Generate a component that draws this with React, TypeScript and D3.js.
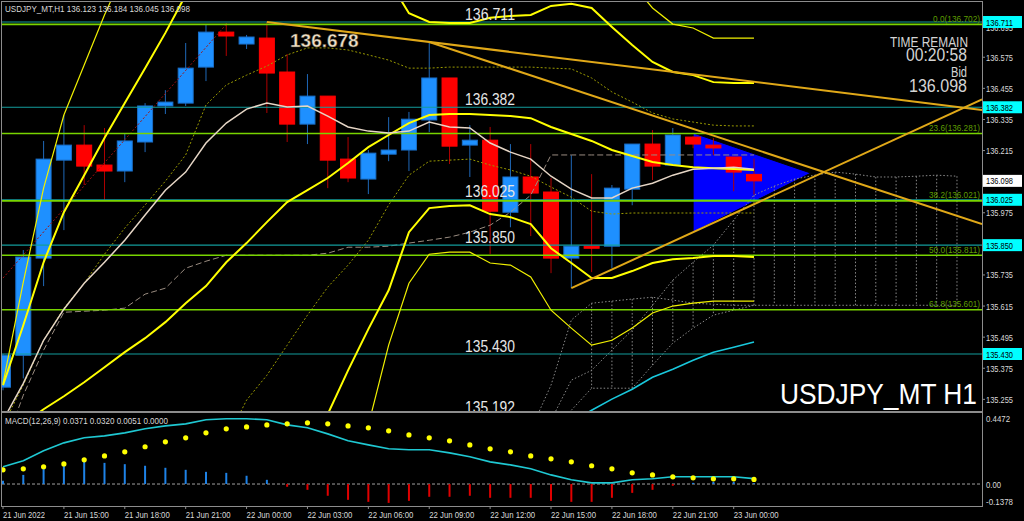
import * as React from 'react';
import * as d3 from 'd3';

const W = 1024;
const H = 521;
const FONT = "'Liberation Sans Narrow', 'Arial Narrow', 'Liberation Sans', sans-serif";

// hourly bars, 21 Jun 12:00 .. 23 Jun 01:00
const opens = [135.302, 135.425, 135.800, 136.178, 136.236, 136.159, 136.136, 136.248, 136.387, 136.398, 136.537, 136.672, 136.626, 136.649, 136.518, 136.317, 136.425, 136.182, 136.105, 136.201, 136.217, 136.333, 136.495, 136.236, 136.255, 135.977, 136.113, 136.055, 135.800, 135.846, 135.846, 136.066, 136.240, 136.159, 136.267, 136.236, 136.190, 136.123];
const highs = [135.430, 135.831, 136.252, 136.352, 136.313, 136.302, 136.282, 136.398, 136.448, 136.630, 136.700, 136.707, 136.661, 136.711, 136.587, 136.510, 136.425, 136.267, 136.217, 136.344, 136.364, 136.634, 136.495, 136.313, 136.306, 136.240, 136.240, 136.109, 136.197, 136.124, 136.082, 136.240, 136.294, 136.302, 136.270, 136.263, 136.190, 136.184];
const lows = [135.290, 135.336, 135.692, 135.908, 136.082, 136.024, 136.093, 136.209, 136.356, 136.387, 136.483, 136.580, 136.607, 136.360, 136.248, 136.240, 136.070, 136.093, 136.047, 136.174, 136.136, 136.286, 136.163, 136.113, 135.815, 135.919, 135.885, 135.742, 135.684, 135.746, 135.761, 136.004, 136.101, 136.159, 136.224, 136.197, 136.058, 136.045];
const closes = [135.425, 135.804, 136.182, 136.236, 136.155, 136.136, 136.252, 136.387, 136.402, 136.533, 136.672, 136.657, 136.653, 136.514, 136.317, 136.425, 136.178, 136.109, 136.205, 136.217, 136.336, 136.495, 136.232, 136.255, 135.981, 136.113, 136.051, 135.800, 135.846, 135.838, 136.070, 136.240, 136.155, 136.275, 136.240, 136.225, 136.132, 136.098];

const timeTickIdx = [0, 3, 6, 9, 12, 15, 18, 21, 24, 27, 30, 33, 36];
const timeLabels = ['21 Jun 2022', '21 Jun 15:00', '21 Jun 18:00', '21 Jun 21:00', '22 Jun 00:00', '22 Jun 03:00', '22 Jun 06:00', '22 Jun 09:00', '22 Jun 12:00', '22 Jun 15:00', '22 Jun 18:00', '22 Jun 21:00', '23 Jun 00:00'];

// visible price scale labels (the rest sit under the level boxes)
const priceTicks = [135.255, 135.375, 135.495, 135.615, 135.735, 135.975, 136.215, 136.335, 136.455, 136.575, 136.695];

// bollinger style bands (null = not drawn)
const bbMid = [135.105, 135.159, 135.217, 135.267, 135.321, 135.379, 135.437, 135.491, 135.553, 135.626, 135.692, 135.784, 135.858, 135.939, 136.016, 136.062, 136.109, 136.167, 136.228, 136.275, 136.321, 136.352, 136.356, 136.356, 136.352, 136.348, 136.340, 136.306, 136.279, 136.252, 136.217, 136.194, 136.171, 136.159, 136.151, 136.147, 136.144, 136.140];
const bbUp2 = [135.310, 135.541, 135.784, 135.977, 136.120, 136.263, 136.398, 136.533, 136.669, 136.815, 136.900, 136.980, 137.040, 137.080, 137.100, 137.086, 137.020, 136.966, 136.931, 136.873, 136.745, 136.711, 136.707, 136.707, 136.727, 136.734, 136.738, 136.773, 136.781, 136.765, 136.692, 136.622, 136.557, 136.518, 136.506, 136.479, 136.476, 136.476];
const bbUp3 = [135.317, 135.707, 136.070, 136.352, 136.545, 136.738, 136.912, 137.050, 137.150, 137.250, 137.300, 137.350, 137.380, 137.400, 137.400, 137.380, 137.330, 137.270, 137.200, 137.086, 136.939, 136.889, 136.889, 136.889, 136.923, 136.923, 136.954, 137.012, 137.028, 137.039, 136.950, 136.858, 136.765, 136.703, 136.688, 136.649, 136.649, 136.649];
const bbLo2 = [null, null, null, null, null, null, null, null, null, null, null, null, null, null, 134.865, 135.039, 135.198, 135.367, 135.526, 135.676, 135.900, 135.993, 136.001, 136.004, 135.970, 135.958, 135.931, 135.838, 135.781, 135.723, 135.723, 135.750, 135.781, 135.796, 135.800, 135.808, 135.808, 135.804];
const bbLo3 = [null, null, null, null, null, null, null, null, null, null, null, null, null, null, null, null, 134.788, 134.943, 135.155, 135.464, 135.703, 135.815, 135.823, 135.823, 135.781, 135.773, 135.727, 135.599, 135.530, 135.464, 135.483, 135.530, 135.588, 135.615, 135.626, 135.634, 135.634, 135.634];

const maFast = [135.174, 135.317, 135.483, 135.603, 135.703, 135.784, 135.869, 135.966, 136.062, 136.132, 136.244, 136.321, 136.375, 136.398, 136.383, 136.387, 136.348, 136.306, 136.290, 136.283, 136.290, 136.325, 136.306, 136.302, 136.244, 136.209, 136.182, 136.116, 136.066, 136.032, 136.032, 136.070, 136.089, 136.120, 136.143, 136.147, 136.151, 136.143];
const envHigh = [135.155, 135.310, 135.483, 135.607, 135.703, 135.815, 135.916, 136.005, 136.097, 136.198, 136.391, 136.468, 136.506, 136.541, 136.584, 136.611, 136.611, 136.603, 136.584, 136.564, 136.533, 136.533, 136.537, 136.537, 136.537, 136.537, 136.537, 136.533, 136.530, 136.495, 136.441, 136.402, 136.360, 136.337, 136.325, 136.313, 136.310, 136.310];
const envLow = [null, null, null, null, null, null, null, null, null, null, null, 135.097, 135.252, 135.348, 135.464, 135.580, 135.688, 135.773, 135.869, 136.005, 136.120, 136.174, 136.178, 136.182, 136.159, 136.140, 136.116, 136.074, 136.035, 135.981, 135.970, 135.974, 135.974, 135.974, 135.974, 135.974, 135.974, 135.974];
const lagLine = [135.059, 135.271, 135.445, 135.591, 135.595, 135.599, 135.607, 135.661, 135.684, 135.761, 135.788, 135.811, 135.811, 135.811, 135.811, 135.811, 135.819, 135.842, 135.842, 135.846, 135.858, 135.869, 135.881, 135.900, 135.927, 135.977, 136.043, 136.198, 136.198, 136.198, 136.198, 136.198, 136.198, 136.198, 136.198, 136.198, 136.198, 136.198];
const cyanLine = [null, null, null, null, null, null, null, null, null, null, null, null, null, null, null, null, null, null, null, null, null, null, null, null, null, null, null, null, 135.167, 135.213, 135.256, 135.294, 135.340, 135.371, 135.406, 135.437, 135.456, 135.476];

// cloud spans, each starting at its own bar index
const spanAStart = 27;
const spanA = [135.174, 135.329, 135.367, 135.445, 135.522, 135.618, 135.715, 135.784, 135.850, 135.947, 136.043, 136.078, 136.105, 136.120, 136.132, 136.124, 136.113, 136.113, 136.116, 136.120, 136.116];
const spanBStart = 26;
const spanB = [135.136, 135.310, 135.561, 135.626, 135.634, 135.642, 135.649, 135.638, 135.626, 135.622, 135.618, 135.618, 135.618, 135.618, 135.618, 135.618, 135.618, 135.618, 135.618, 135.618, 135.618, 135.618];
const spanCStart = 28;
const spanC = [135.213, 135.298, 135.298, 135.298, 135.387, 135.472, 135.530, 135.580, 135.599, 135.618];

// fibo diagonal, trendlines (bar index, price)
const fibDiag = [[0, 135.723], [11, 136.702]];
const trend1 = [[13, 136.711], [37, 136.480]];
const trend2 = [[21, 136.634], [37, 136.221]];
const trend3 = [[28, 135.684], [37, 136.008]];
const triangle = [[34, 136.283], [34, 135.900], [39.8, 136.128]];

const levels = [136.711, 136.382, 136.025, 135.850, 135.430, 135.192];
const fibNames = ['0.0', '23.6', '38.2', '50.0', '61.8'];
const fibPrices = [136.702, 136.281, 136.021, 135.811, 135.601];

const macdMain = [0.119, 0.160, 0.229, 0.284, 0.319, 0.332, 0.353, 0.381, 0.401, 0.415, 0.443, 0.450, 0.450, 0.443, 0.408, 0.388, 0.346, 0.298, 0.270, 0.243, 0.236, 0.236, 0.215, 0.188, 0.153, 0.132, 0.105, 0.063, 0.029, 0.008, 0.008, 0.029, 0.036, 0.050, 0.050, 0.050, 0.050, 0.0371];
const macdSignal = [0.098, 0.105, 0.119, 0.139, 0.167, 0.194, 0.222, 0.257, 0.291, 0.319, 0.353, 0.381, 0.394, 0.408, 0.415, 0.422, 0.415, 0.401, 0.388, 0.367, 0.339, 0.319, 0.298, 0.270, 0.243, 0.222, 0.194, 0.174, 0.153, 0.126, 0.105, 0.077, 0.063, 0.050, 0.043, 0.036, 0.036, 0.0320];
const macdHist = [0.022, 0.063, 0.112, 0.137, 0.153, 0.146, 0.137, 0.126, 0.112, 0.098, 0.084, 0.077, 0.057, 0.029, -0.019, -0.040, -0.081, -0.109, -0.123, -0.130, -0.116, -0.088, -0.088, -0.081, -0.095, -0.095, -0.095, -0.116, -0.123, -0.123, -0.095, -0.061, -0.040, -0.012, 0.008, 0.015, 0.015, 0.0051];

const MAIN = { left: 2, right: 982, top: 2, bottom: 411 };
const SUB = { top: 413, bottom: 506 };

const x = d3.scaleLinear().domain([0, 37]).range([3, 754]);
const y = d3.scaleLinear().domain([136.711, 135.43]).range([22, 354]);
const my = d3.scaleLinear().domain([0.4472, -0.1378]).range([419.2, 504]);

const seriesPath = (vals: (number | null)[], start = 0) =>
  d3.line<number | null>()
    .defined((v) => v != null)
    .x((_, i) => x(i + start))
    .y((v) => y(v as number))(vals) || '';

const pts = (p: number[][]) => d3.line<number[]>().x((d) => x(d[0])).y((d) => y(d[1]))(p) || '';

// extend a two point trendline to the right border
const ray = (p: number[][]) => {
  const [a, b] = p;
  const slope = (b[1] - a[1]) / (b[0] - a[0]);
  const endIdx = x.invert(MAIN.right);
  return pts([a, [endIdx, a[1] + slope * (endIdx - a[0])]]);
};

const App: React.FC = () => {
  const cloudBars = d3.range(29, 48);
  const candleW = 15;
  return (
    <svg width={W} height={H} style={{ position: 'fixed', left: 0, top: 0, background: '#000' }} fontFamily={FONT}>
      <defs>
        <clipPath id="mainClip">
          <rect x={MAIN.left} y={MAIN.top} width={MAIN.right - MAIN.left} height={MAIN.bottom - MAIN.top} />
        </clipPath>
        <clipPath id="subClip">
          <rect x={MAIN.left} y={SUB.top} width={MAIN.right - MAIN.left} height={SUB.bottom - SUB.top} />
        </clipPath>
      </defs>
      <rect x={0} y={0} width={W} height={H} fill="#000" />

      <g clipPath="url(#mainClip)">
        {/* triangle object in background */}
        <path d={pts(triangle) + 'Z'} fill="#0000ff" stroke="#000" strokeWidth={1} />

        {/* candles */}
        {opens.map((o, i) => {
          const c = closes[i];
          const up = c >= o;
          const top = y(Math.max(o, c));
          const bot = y(Math.min(o, c));
          return (
            <g key={i}>
              <line x1={x(i)} x2={x(i)} y1={y(highs[i])} y2={y(lows[i])} stroke={up ? '#1f68b8' : '#b00000'} strokeWidth={1} />
              <rect x={x(i) - candleW / 2} y={top} width={candleW} height={Math.max(bot - top, 1.5)}
                fill={up ? '#1e90ff' : '#ff0000'} stroke={up ? '#1a6fc9' : '#ff0000'} strokeWidth={1} />
            </g>
          );
        })}

        {/* cloud */}
        <g stroke="#8a8a8a" strokeWidth={1} strokeDasharray="1.5,2" fill="none">
          <path d={seriesPath(spanA, spanAStart)} />
          <path d={seriesPath(spanB, spanBStart)} />
          <path d={seriesPath(spanC, spanCStart)} />
          {cloudBars.map((i) => {
            const vals = [spanA[i - spanAStart], spanB[i - spanBStart], spanC[i - spanCStart]].filter((v) => v != null) as number[];
            return <line key={i} x1={x(i)} x2={x(i)} y1={y(d3.max(vals)!)} y2={y(d3.min(vals)!)} />;
          })}
        </g>

        <path d={seriesPath(lagLine)} fill="none" stroke="#9a8c80" strokeWidth={1} strokeDasharray="6,3" />
        <path d={pts(fibDiag)} fill="none" stroke="#a01010" strokeWidth={1} strokeDasharray="2,2" />
        <path d={seriesPath(envHigh)} fill="none" stroke="#9a9a00" strokeWidth={1} strokeDasharray="2,2" />
        <path d={seriesPath(envLow)} fill="none" stroke="#9a9a00" strokeWidth={1} strokeDasharray="2,2" />

        {/* horizontal levels */}
        {levels.map((lv) => (
          <line key={lv} x1={MAIN.left} x2={MAIN.right} y1={y(lv)} y2={y(lv)} stroke="#139c9c" strokeWidth={1.2} />
        ))}
        {fibPrices.map((fp) => (
          <line key={fp} x1={MAIN.left} x2={MAIN.right} y1={y(fp)} y2={y(fp)} stroke="#78d400" strokeWidth={1.6} />
        ))}

        {/* bands and averages */}
        <path d={seriesPath(bbUp3)} fill="none" stroke="#f0f000" strokeWidth={1.2} />
        <path d={seriesPath(bbLo3)} fill="none" stroke="#f0f000" strokeWidth={1.2} />
        <path d={seriesPath(bbUp2)} fill="none" stroke="#ffff00" strokeWidth={2} />
        <path d={seriesPath(bbLo2)} fill="none" stroke="#ffff00" strokeWidth={2} />
        <path d={seriesPath(bbMid)} fill="none" stroke="#ffff00" strokeWidth={2} />
        <path d={seriesPath(maFast)} fill="none" stroke="#e6d6c6" strokeWidth={1.5} />
        <path d={seriesPath(cyanLine)} fill="none" stroke="#19c8dc" strokeWidth={1.6} />

        {/* trendlines */}
        {[trend1, trend2, trend3].map((t, k) => (
          <path key={k} d={ray(t)} fill="none" stroke="#e0a818" strokeWidth={2} />
        ))}

        {/* level texts */}
        {levels.map((lv) => (
          <text key={lv} x={465} y={y(lv) - 2.5} fontSize={16} fill="#e6e6e6" textLength={50} lengthAdjust="spacingAndGlyphs">{lv.toFixed(3)}</text>
        ))}
        {fibPrices.map((fp, k) => (
          <text key={fp} x={980} y={y(fp) - 2.5} fontSize={9.5} fill="#5e9e00" textAnchor="end"
            textLength={k === 0 ? 47 : 51} lengthAdjust="spacingAndGlyphs">{`${fibNames[k]}(${fp.toFixed(3)})`}</text>
        ))}

        <text x={290} y={46.5} fontSize={19} fontWeight="bold" fontFamily="'Liberation Sans', Arial, sans-serif" fill="#efe0c8" stroke="#3a3020" strokeWidth={0.4}>136.678</text>

        <g fill="#d4d4d4">
          <text x={890} y={46.5} fontSize={15} textLength={78} lengthAdjust="spacingAndGlyphs">TIME REMAIN</text>
          <text x={906} y={61} fontSize={17.5} textLength={61} lengthAdjust="spacingAndGlyphs">00:20:58</text>
          <text x={951} y={77} fontSize={14.5} textLength={16} lengthAdjust="spacingAndGlyphs">Bid</text>
          <text x={909} y={92} fontSize={17.5} textLength={58} lengthAdjust="spacingAndGlyphs">136.098</text>
        </g>
      </g>

      {/* panel frames */}
      <rect x={MAIN.left - 0.5} y={MAIN.top - 0.5} width={MAIN.right - MAIN.left + 1} height={MAIN.bottom - MAIN.top + 1} fill="none" stroke="#8c8c8c" />
      <rect x={MAIN.left - 0.5} y={SUB.top - 0.5} width={MAIN.right - MAIN.left + 1} height={SUB.bottom - SUB.top + 1} fill="none" stroke="#8c8c8c" />

      <text x={780} y={404} fontSize={30} fill="#ffffff" textLength={197} lengthAdjust="spacingAndGlyphs">USDJPY_MT H1</text>

      <text x={5} y={12} fontSize={9} fill="#d8d8d8" textLength={185} lengthAdjust="spacingAndGlyphs">USDJPY_MT,H1  136.123 136.184 136.045 136.098</text>

      {/* price axis */}
      <g fontSize={9} fill="#d8d8d8">
        {priceTicks.map((p) => (
          <g key={p}>
            <line x1={MAIN.right} x2={MAIN.right + 3} y1={y(p)} y2={y(p)} stroke="#8c8c8c" />
            <text x={986} y={p === 136.695 ? y(p) + 5 : y(p) + 3.5} textLength={27} lengthAdjust="spacingAndGlyphs">{p.toFixed(3)}</text>
          </g>
        ))}
      </g>
      {[136.711, 136.382, 136.025, 135.850, 135.430, 136.098].map((p) => (
        <g key={p}>
          <rect x={983} y={y(p) - 6} width={39} height={12} fill={p === 136.098 ? '#ffffff' : '#00ffff'} />
          <text x={986} y={y(p) + 3.5} fontSize={9} fill="#000" textLength={27} lengthAdjust="spacingAndGlyphs">{p.toFixed(3)}</text>
        </g>
      ))}

      {/* MACD */}
      <g clipPath="url(#subClip)">
        <line x1={MAIN.left} x2={MAIN.right} y1={my(0)} y2={my(0)} stroke="#a0a0a0" strokeDasharray="3,2" />
        {macdHist.map((v, i) => (
          <line key={i} x1={x(i)} x2={x(i)} y1={my(0)} y2={my(v)} stroke={v >= 0 ? '#1e82e6' : '#e00000'} strokeWidth={2} />
        ))}
        <path d={d3.line<number>().x((_, i) => x(i)).y((v) => my(v))(macdMain) || ''} fill="none" stroke="#1fc8d2" strokeWidth={1.6} />
        {macdSignal.map((v, i) => (
          <circle key={i} cx={x(i)} cy={my(v)} r={2.6} fill="#ffff00" />
        ))}
      </g>
      <text x={5} y={424} fontSize={9} fill="#d8d8d8" textLength={163} lengthAdjust="spacingAndGlyphs">MACD(12,26,9) 0.0371 0.0320 0.0051 0.0000</text>
      <g fontSize={9} fill="#d8d8d8">
        <text x={986} y={422} textLength={24} lengthAdjust="spacingAndGlyphs">0.4472</text>
        <text x={986} y={my(0) + 3.5} textLength={15} lengthAdjust="spacingAndGlyphs">0.00</text>
        <text x={986} y={505} textLength={27} lengthAdjust="spacingAndGlyphs">-0.1378</text>
      </g>

      {/* time axis */}
      <g fontSize={9} fill="#d8d8d8">
        {timeTickIdx.map((ti, k) => (
          <g key={ti}>
            <line x1={x(ti)} x2={x(ti)} y1={SUB.bottom} y2={SUB.bottom + 3} stroke="#8c8c8c" />
            <text x={k === 0 ? 3 : x(ti)} y={518} textLength={k === 0 ? 42 : 45} lengthAdjust="spacingAndGlyphs">{timeLabels[k]}</text>
          </g>
        ))}
      </g>
    </svg>
  );
};

export default App;
